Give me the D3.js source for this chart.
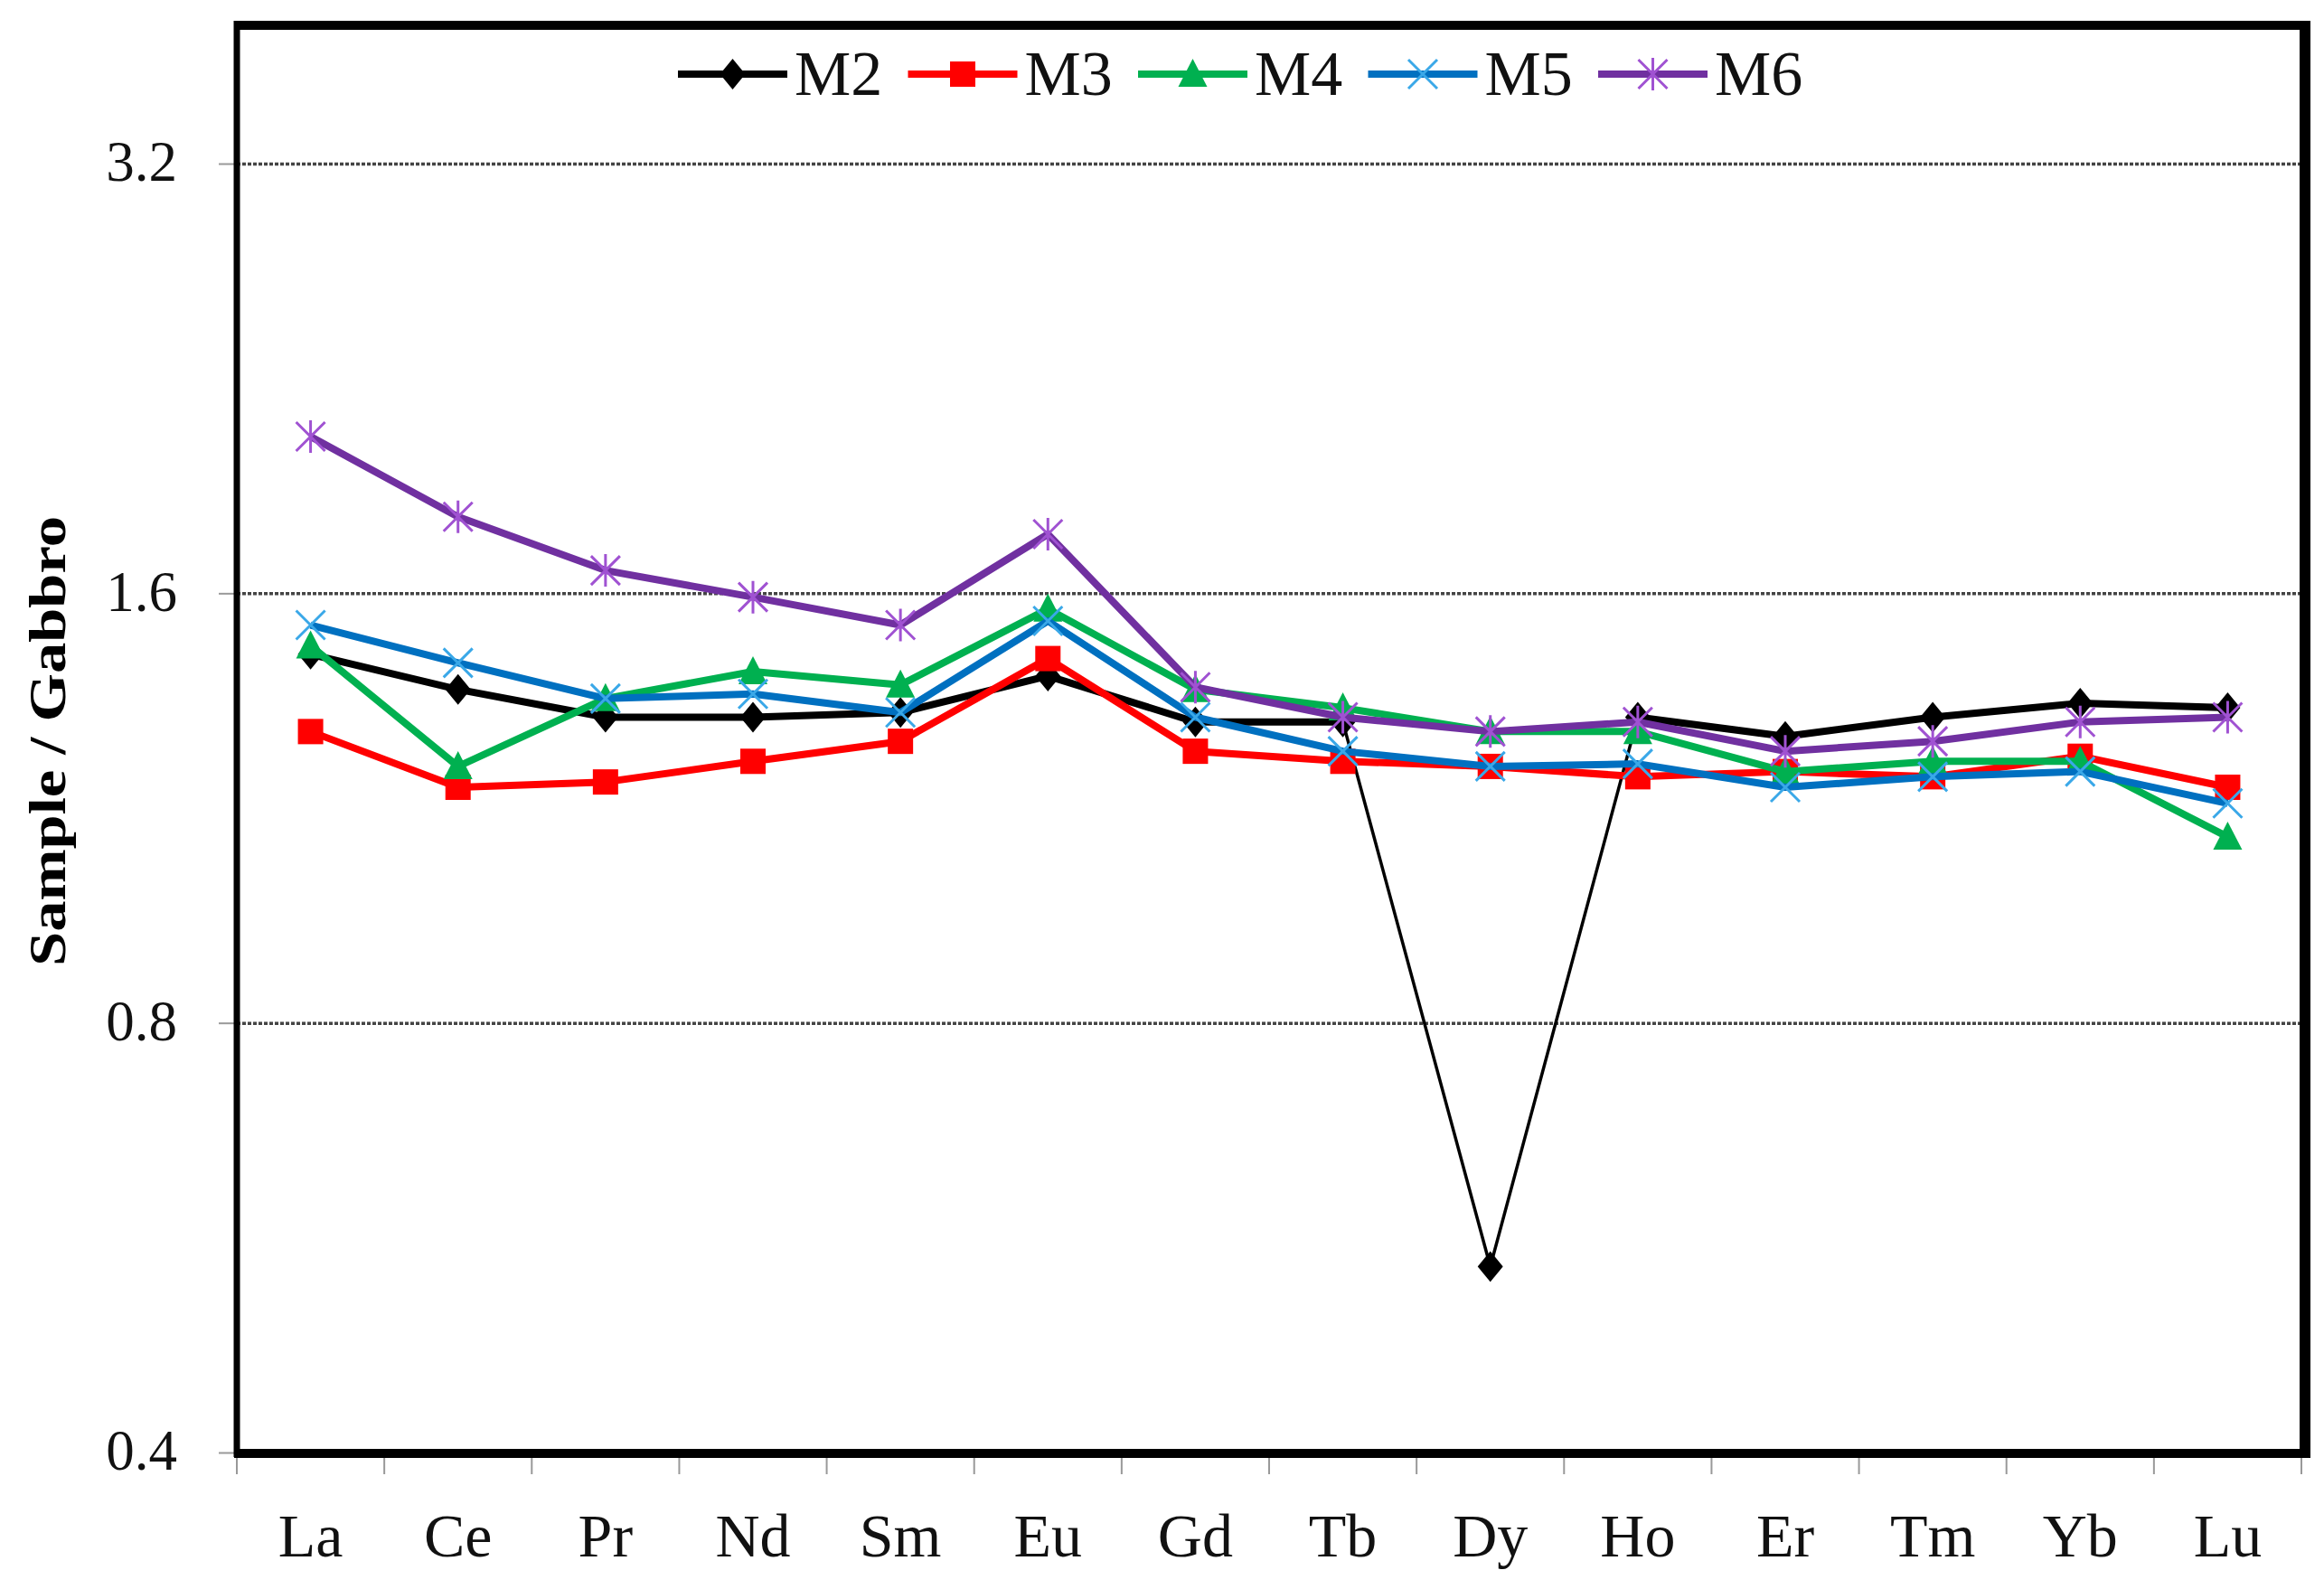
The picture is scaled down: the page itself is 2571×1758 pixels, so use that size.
<html>
<head>
<script src="https://d3js.org/d3.v7.min.js"></script>
<style>
body { margin: 0; background: #fff; }
text { font-family: "Liberation Serif", "Times New Roman", serif; }
</style>
</head>
<body>
<svg width="2571" height="1758"></svg>
<script>
// REE pattern, sample normalised to gabbro
var elements = ["La","Ce","Pr","Nd","Sm","Eu","Gd","Tb","Dy","Ho","Er","Tm","Yb","Lu"];
var seriesNames = ["M2","M3","M4","M5","M6"];
var M2 = [1.45, 1.37, 1.31, 1.31, 1.32, 1.40, 1.30, 1.30, 0.54, 1.31, 1.27, 1.31, 1.34, 1.33];
var M3 = [1.28, 1.17, 1.18, 1.22, 1.26, 1.44, 1.24, 1.22, 1.21, 1.19, 1.20, 1.19, 1.23, 1.17];
var M4 = [1.47, 1.21, 1.35, 1.41, 1.38, 1.56, 1.37, 1.33, 1.28, 1.28, 1.20, 1.22, 1.22, 1.08];
var M5 = [1.52, 1.43, 1.35, 1.36, 1.32, 1.53, 1.31, 1.24, 1.21, 1.215, 1.17, 1.19, 1.20, 1.14];
var M6 = [2.06, 1.81, 1.66, 1.59, 1.52, 1.76, 1.375, 1.31, 1.28, 1.30, 1.24, 1.26, 1.30, 1.31];
var yTicks = [0.4, 0.8, 1.6, 3.2];

var lineColors = ["#000000", "#FF0000", "#00B050", "#0070C0", "#7030A0"];
var markerColors = ["#000000", "#FF0000", "#00B050", "#3AA8E8", "#A052D2"];
var markerTypes = ["diamond", "square", "triangle", "x", "star"];
var values = [M2, M3, M4, M5, M6];

var svg = d3.select("svg");
var pLeft = 262, pRight = 2546, pTop = 28, pBottom = 1607;

var x = d3.scaleBand().domain(elements).range([pLeft, pRight]).padding(0);
var y = d3.scaleLog().base(2).domain([0.4, 4.0]).range([pBottom, pTop]);
var cx = function(e) { return x(e) + x.bandwidth() / 2; };

// gridlines
var grid = svg.append("g").attr("transform", "translate(" + pLeft + ",0)")
  .call(d3.axisLeft(y).tickValues(yTicks.slice(1)).tickSize(-(pRight - pLeft)).tickFormat(""));
grid.select(".domain").remove();
grid.selectAll("line").attr("stroke", "#444").attr("stroke-width", 3.5).attr("stroke-dasharray", "4,2");

// y axis ticks + labels
var yAxis = svg.append("g").attr("transform", "translate(" + pLeft + ",0)")
  .call(d3.axisLeft(y).tickValues(yTicks).tickSize(20).tickPadding(46).tickFormat(d3.format(".1f")));
yAxis.select(".domain").remove();
yAxis.selectAll("line").attr("stroke", "#999").attr("stroke-width", 2);
yAxis.selectAll("text").attr("font-size", 63).attr("fill", "#111")
  .attr("font-family", "Liberation Serif").attr("dy", "0.30em");

// x axis: ticks between categories, labels at centres
var xb = elements.map(function(e) { return x(e); }).concat([pRight]);
svg.append("g").selectAll("line").data(xb).enter().append("line")
  .attr("x1", function(d) { return d; }).attr("x2", function(d) { return d; })
  .attr("y1", pBottom).attr("y2", pBottom + 24)
  .attr("stroke", "#999").attr("stroke-width", 2);
svg.append("g").selectAll("text").data(elements).enter().append("text")
  .attr("x", cx).attr("y", 1722).attr("text-anchor", "middle")
  .attr("font-size", 68).attr("fill", "#111").text(function(d) { return d; });

// frame
svg.append("line").attr("x1", pLeft).attr("x2", pLeft).attr("y1", pTop - 5).attr("y2", pBottom + 5)
  .attr("stroke", "#000").attr("stroke-width", 7);
svg.append("line").attr("x1", pLeft - 3).attr("x2", pRight + 10).attr("y1", pTop).attr("y2", pTop)
  .attr("stroke", "#000").attr("stroke-width", 10);
svg.append("line").attr("x1", pRight + 4).attr("x2", pRight + 4).attr("y1", pTop - 5).attr("y2", pBottom + 5)
  .attr("stroke", "#000").attr("stroke-width", 12);
svg.append("line").attr("x1", pLeft - 3).attr("x2", pRight + 10).attr("y1", pBottom + 1).attr("y2", pBottom + 1)
  .attr("stroke", "#000").attr("stroke-width", 10);

// y title
svg.append("text").attr("transform", "translate(72,820) rotate(-90)")
  .attr("text-anchor", "middle").attr("font-size", 58).attr("font-weight", "bold")
  .attr("textLength", 498).attr("lengthAdjust", "spacingAndGlyphs")
  .text("Sample / Gabbro");

function drawMarker(g, type, color) {
  if (type == "diamond") {
    g.append("path").attr("d", "M0,-17L14,0L0,17L-14,0Z").attr("fill", color);
  } else if (type == "square") {
    g.append("rect").attr("x", -14).attr("y", -14).attr("width", 28).attr("height", 28).attr("fill", color);
  } else if (type == "triangle") {
    g.append("path").attr("d", "M0,-17L16,14L-16,14Z").attr("fill", color);
  } else if (type == "x") {
    g.append("path").attr("d", "M-16,-16L16,16M-16,16L16,-16").attr("stroke", color).attr("stroke-width", 3);
  } else {
    g.append("path").attr("d", "M-16,-16L16,16M-16,16L16,-16M0,-18L0,18").attr("stroke", color).attr("stroke-width", 3);
  }
}

var line = d3.line().x(function(d) { return cx(d.e); }).y(function(d) { return y(d.v); });

values.forEach(function(vals, s) {
  var pts = elements.map(function(e, i) { return {e: e, v: vals[i]}; });
  var g = svg.append("g");
  if (s == 0) {
    // M2: thin segments around the Dy low
    g.append("path").datum(pts.slice(0, 8)).attr("d", line).attr("fill", "none")
      .attr("stroke", lineColors[s]).attr("stroke-width", 8).attr("stroke-linejoin", "round");
    g.append("path").datum(pts.slice(7, 10)).attr("d", line).attr("fill", "none")
      .attr("stroke", lineColors[s]).attr("stroke-width", 3.5).attr("stroke-linejoin", "round");
    g.append("path").datum(pts.slice(9)).attr("d", line).attr("fill", "none")
      .attr("stroke", lineColors[s]).attr("stroke-width", 8).attr("stroke-linejoin", "round");
  } else {
    g.append("path").datum(pts).attr("d", line).attr("fill", "none")
      .attr("stroke", lineColors[s]).attr("stroke-width", 8).attr("stroke-linejoin", "round");
  }
  pts.forEach(function(p) {
    var m = g.append("g").attr("transform", "translate(" + cx(p.e) + "," + y(p.v) + ")");
    drawMarker(m, markerTypes[s], markerColors[s]);
  });
});

// legend
var legend = svg.append("g");
seriesNames.forEach(function(name, s) {
  var x0 = 750 + s * 254.5;
  var lg = legend.append("g").attr("transform", "translate(" + x0 + ",82)");
  lg.append("line").attr("x1", 0).attr("x2", 121).attr("y1", 0).attr("y2", 0)
    .attr("stroke", lineColors[s]).attr("stroke-width", 8);
  var m = lg.append("g").attr("transform", "translate(60.5,0)");
  drawMarker(m, markerTypes[s], markerColors[s]);
  lg.append("text").attr("x", 129).attr("y", 23).attr("font-size", 70).attr("fill", "#111").text(name);
});
</script>
</body>
</html>
